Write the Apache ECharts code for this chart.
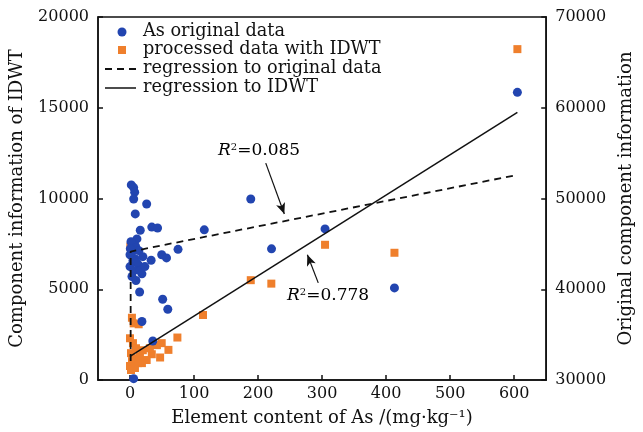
<!DOCTYPE html>
<html>
<head>
<meta charset="utf-8">
<script src="https://cdn.jsdelivr.net/npm/echarts@6/dist/echarts.min.js"></script>
<style>html,body{margin:0;padding:0;background:#fff}#c{width:643px;height:432px}</style>
</head>
<body>
<div id="c"></div>
<script>
// X tick labels
var xTicks = [0, 100, 200, 300, 400, 500, 600];
// As original data (x: mg/kg, y: right axis "Original component information")
var originalData = [
  [2,51500],[5.7,51200],[7.3,50700],[5.7,49950],[26,49400],[8.2,48300],[16,46500],[34,46850],[43,46750],
  [116,46550],[10.8,45550],[8.2,44800],[3.1,44100],[8.2,43350],[13.5,42650],[18.6,41700],[33,43200],
  [49.5,43800],[57,43450],[75,44400],[15,39700],[51,38900],[59,37800],[18.6,36450],[35.6,34300],[5.7,30150],
  [1.5,45230],[9.3,44580],[0,43800],[13.9,44250],[4.6,43150],[10.8,42930],[0,42500],[6.2,42050],[15.5,42050],
  [3.1,41400],[9.3,40960],[23.2,42500],[20.1,43590],[0.5,44470],
  [188.6,49950],[221,44450],[304.6,46650],[413,40150],[605,61700]
];
// processed data with IDWT (x: mg/kg, y: left axis "Component information of IDWT")
var idwtData = [
  [0.5,7350],[3,3430],[13.5,3070],[5.7,3120],[74,2340],[114,3580],[49.5,2030],[60,1660],[47,1240],
  [34,1420],[26,1100],[18.6,930],[42,1920],[31,1750],[0,2300],[4.6,2030],[9.3,1750],[1.5,1480],
  [6.2,1200],[12.4,930],[0,770],[3.1,1040],[15.5,1310],[20,1640],[7.7,660],[1.5,550],
  [188.6,5500],[220.7,5310],[304.6,7450],[413,7010],[605,18230]
];
// regression lines
var regOriginal = [[1,32100],[1,44150],[605,52600]];
var regIDWT = [[0,1300],[605,14750]];
// annotation arrows (data coords: tail -> tip)
var arrow085 = [[212,11950],[241,9150]];
var arrow778 = [[294,5350],[277,6900]];
var legendNames = ['As original data','processed data with IDWT','regression to original data','regression to IDWT'];

var FONT = 'DejaVu Serif';
var TXT = '#111';
var chart = echarts.init(document.getElementById('c'), null, {renderer:'canvas'});
function plain(v){return String(v);}
var lineSt = {color:'#111', width:1.5};
var tickSt = {show:true, inside:true, length:5, lineStyle:{color:'#111', width:1.5}};
var labelSt = {color:TXT, fontFamily:FONT, fontSize:16, formatter:plain};
var nameSt = {color:TXT, fontFamily:FONT, fontSize:18};
var legFont = '17.7px "DejaVu Serif"';
var option = {
  animation:false,
  backgroundColor:'#fff',
  grid:{left:97, right:95, top:17, bottom:50, show:true, borderColor:'#111', borderWidth:1.5},
  xAxis: {
    type:'value', min:-50, max:650, splitLine:{show:false},
    axisLine:{show:true, onZero:false, lineStyle:lineSt},
    name:'Element content of As /(mg\u00b7kg\u207b\u00b9)', nameLocation:'middle', nameGap:29, nameTextStyle:nameSt,
    axisLabel:Object.assign({margin:6, customValues:xTicks}, labelSt),
    axisTick:Object.assign({customValues:xTicks}, tickSt)
  },
  yAxis:[
    {type:'value', min:0, max:20000, interval:5000, splitLine:{show:false},
      axisLine:{show:true, onZero:false, lineStyle:lineSt}, axisTick:tickSt,
      axisLabel:Object.assign({margin:9}, labelSt),
      name:'Component information of IDWT', nameLocation:'middle', nameGap:72, nameTextStyle:nameSt},
    {type:'value', min:30000, max:70000, interval:10000, position:'right', splitLine:{show:false},
      axisLine:{show:true, onZero:false, lineStyle:lineSt}, axisTick:tickSt,
      axisLabel:Object.assign({margin:9}, labelSt),
      name:'Original component information', nameLocation:'middle', nameGap:63, nameRotate:90, nameTextStyle:nameSt}
  ],
  series:[
    {name:legendNames[1], type:'scatter', yAxisIndex:0, data:idwtData, symbol:'rect', symbolSize:8,
      itemStyle:{color:'#ef7f2c', opacity:1}, z:2},
    {name:legendNames[0], type:'scatter', yAxisIndex:1, data:originalData, symbol:'circle', symbolSize:9,
      itemStyle:{color:'#2245b0', opacity:1}, z:3},
    {name:legendNames[2], type:'line', yAxisIndex:1, data:regOriginal, symbol:'none',
      lineStyle:{color:'#111', width:1.8, type:[7,5]}, z:4},
    {name:legendNames[3], type:'line', yAxisIndex:0, data:regIDWT, symbol:'none',
      lineStyle:{color:'#111', width:1.5}, z:4,
      markLine:{silent:true, symbol:['none','arrow'], symbolSize:[7,11], label:{show:false},
        lineStyle:{color:'#111', width:1.2, type:'solid'},
        data:[[{coord:arrow085[0]},{coord:arrow085[1]}],[{coord:arrow778[0]},{coord:arrow778[1]}]]}}
  ],
  graphic:[
    {type:'circle', shape:{cx:122, cy:32, r:4.5}, style:{fill:'#2245b0'}},
    {type:'rect', shape:{x:118, y:46, width:8, height:8}, style:{fill:'#ef7f2c'}},
    {type:'line', shape:{x1:105, y1:69, x2:136, y2:69}, style:{stroke:'#111', lineWidth:1.8, lineDash:[7,5]}},
    {type:'line', shape:{x1:105, y1:88, x2:136, y2:88}, style:{stroke:'#111', lineWidth:1.5}},
    {type:'text', left:143, top:22, style:{text:legendNames[0], font:legFont, fill:TXT}},
    {type:'text', left:143, top:40, style:{text:legendNames[1], font:legFont, fill:TXT}},
    {type:'text', left:143, top:59, style:{text:legendNames[2], font:legFont, fill:TXT}},
    {type:'text', left:143, top:78, style:{text:legendNames[3], font:legFont, fill:TXT}},
    {type:'text', left:218, top:142, style:{text:'{i|R}{s|2}{n|=0.085}', rich:{
      i:{fontFamily:FONT, fontSize:17, fontStyle:'italic', color:TXT},
      s:{fontFamily:FONT, fontSize:10, verticalAlign:'top', color:TXT, padding:[0,0,8,0]},
      n:{fontFamily:FONT, fontSize:17, color:TXT}}}},
    {type:'text', left:287, top:287, style:{text:'{i|R}{s|2}{n|=0.778}', rich:{
      i:{fontFamily:FONT, fontSize:17, fontStyle:'italic', color:TXT},
      s:{fontFamily:FONT, fontSize:10, verticalAlign:'top', color:TXT, padding:[0,0,8,0]},
      n:{fontFamily:FONT, fontSize:17, color:TXT}}}}
  ]
};
chart.setOption(option);
</script>
</body>
</html>
